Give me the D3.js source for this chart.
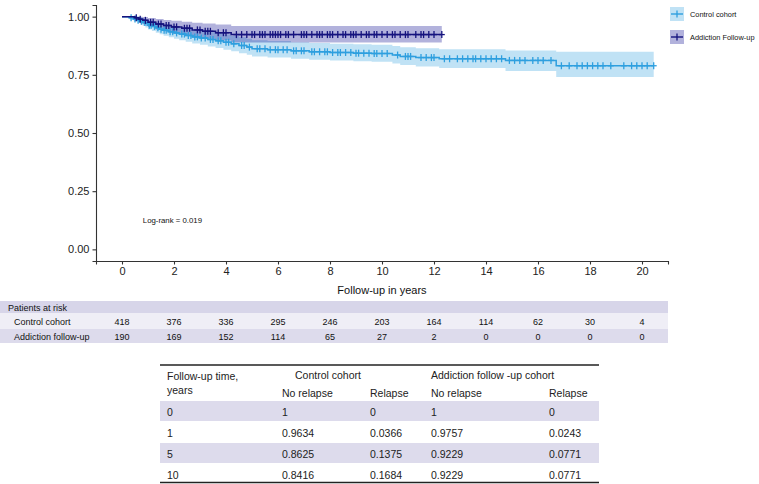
<!DOCTYPE html>
<html><head><meta charset="utf-8">
<script src="https://cdn.jsdelivr.net/npm/d3@7"></script>
<style>body{margin:0;background:#fff;font-family:"Liberation Sans",Arial,sans-serif;}</style>
</head><body><svg id="c" width="759" height="484"></svg>
<script>
// ---- data ----
const ctrlTimes = [0,0.3,0.45,0.6,0.7,0.8,0.9,1.0,1.15,1.3,1.45,1.6,1.8,2.0,2.2,2.45,2.7,3.0,3.3,3.6,3.9,4.2,4.5,4.8,5.0,5.6,6.5,7.2,8.0,8.9,9.6,10.4,10.7,11.3,12.2,14.75,16.7,20.45];
const ctrlSurv  = [1,0.995,0.99,0.985,0.98,0.975,0.97,0.9634,0.958,0.952,0.946,0.941,0.935,0.93,0.925,0.919,0.913,0.908,0.902,0.896,0.89,0.883,0.876,0.869,0.8625,0.858,0.853,0.849,0.846,0.843,0.8416,0.835,0.829,0.824,0.819,0.812,0.789,0.789];
const ctrlLow   = [1,0.988,0.98,0.973,0.966,0.96,0.953,0.945,0.938,0.931,0.924,0.918,0.911,0.905,0.899,0.892,0.885,0.879,0.872,0.865,0.858,0.851,0.843,0.836,0.829,0.824,0.819,0.815,0.811,0.808,0.806,0.799,0.792,0.786,0.779,0.766,0.741,0.741];
const ctrlHigh  = [1,1,0.999,0.997,0.994,0.99,0.987,0.982,0.978,0.974,0.969,0.965,0.96,0.956,0.952,0.947,0.942,0.938,0.933,0.928,0.923,0.917,0.911,0.905,0.899,0.895,0.89,0.887,0.884,0.881,0.879,0.874,0.868,0.864,0.86,0.855,0.849,0.849];
const ctrlCens  = [0.35,0.5,0.62,0.75,0.88,1.05,1.12,1.25,1.38,1.5,1.62,1.7,1.85,1.95,2.1,2.3,2.4,2.55,2.65,2.8,2.9,3.05,3.2,3.4,3.5,3.7,3.8,4.0,4.1,4.3,4.6,4.7,4.9,5.2,5.3,5.5,5.7,5.9,6.0,6.2,6.35,6.6,6.7,6.9,7.0,7.3,7.4,7.6,7.8,7.9,8.1,8.3,8.4,8.6,8.8,9.0,9.1,9.3,9.5,9.7,9.8,10.0,10.2,10.6,10.9,11.0,11.1,11.5,11.7,11.9,12.0,12.4,12.6,12.9,13.1,13.3,13.5,13.6,13.8,14.0,14.2,14.4,14.6,14.9,15.1,15.3,15.5,15.8,16.0,16.2,16.5,16.9,17.2,17.5,17.7,17.9,18.1,18.3,18.5,18.8,19.3,19.6,19.8,20.0,20.2,20.45];

const addTimes = [0,0.5,0.65,0.8,1.0,1.3,1.6,1.9,2.3,2.7,3.1,3.6,4.2,12.3];
const addSurv  = [1,0.995,0.989,0.984,0.9757,0.968,0.962,0.956,0.95,0.943,0.937,0.931,0.9229,0.9229];
const addLow   = [1,0.985,0.975,0.967,0.955,0.945,0.937,0.929,0.921,0.913,0.905,0.898,0.889,0.889];
const addHigh  = [1,1,1,0.998,0.994,0.99,0.986,0.982,0.978,0.974,0.97,0.966,0.96,0.96];
const addCens  = [0.55,0.7,0.9,1.1,1.2,1.4,1.5,1.7,1.8,2.0,2.1,2.4,2.5,2.6,2.9,3.0,3.2,3.3,3.4,3.7,3.9,4.0,4.4,4.6,4.8,5.0,5.1,5.3,5.4,5.5,5.7,5.8,5.9,6.0,6.1,6.3,6.4,6.6,6.9,7.0,7.1,7.3,7.5,7.6,7.7,7.9,8.0,8.1,8.3,8.5,8.6,8.8,8.9,9.0,9.2,9.4,9.5,9.7,9.8,10.0,10.2,10.4,10.5,10.7,10.9,11.0,11.3,11.5,11.6,11.8,12.0,12.3];

const xTicks = [0,2,4,6,8,10,12,14,16,18,20];
const yTicks = [0,0.25,0.5,0.75,1];
const seriesNames = ["Control cohort","Addiction Follow-up"];
const riskLabels = ["Control cohort","Addiction follow-up"];
const riskControl = [418,376,336,295,246,203,164,114,62,30,4];
const riskAddiction = [190,169,152,114,65,27,2,0,0,0,0];
const tblYears = ["0","1","5","10"];
const tblCtrlNo = ["1","0.9634","0.8625","0.8416"];
const tblCtrlRel = ["0","0.0366","0.1375","0.1684"];
const tblAddNo = ["1","0.9757","0.9229","0.9229"];
const tblAddRel = ["0","0.0243","0.0771","0.0771"];

// ---- drawing ----
const svg = d3.select("#c");
const FONT = '"Liberation Sans",Arial,sans-serif';
const x = d3.scaleLinear().domain([-1,21]).range([96,668]);
const y = d3.scaleLinear().domain([-0.05,1.05]).range([261,5]);

const ctrlCol = "#2E9FDF", ctrlFill = "#2E9FDF";
const addCol = "#15137e", addFill = "#00008B";

function series(times, surv, low, high){
  return times.map((t,i)=>({t, s:surv[i], lo:low[i], hi:high[i]}));
}
const ctrl = series(ctrlTimes, ctrlSurv, ctrlLow, ctrlHigh);
const add = series(addTimes, addSurv, addLow, addHigh);

function survAt(d, t){ let v=d[0].s; for(const p of d){ if(p.t<=t) v=p.s; } return v; }

const area = d3.area().curve(d3.curveStepAfter).x(d=>x(d.t)).y0(d=>y(d.lo)).y1(d=>y(d.hi));
const line = d3.line().curve(d3.curveStepAfter).x(d=>x(d.t)).y(d=>y(d.s));

svg.append("path").datum(ctrl).attr("d",area).attr("fill",ctrlFill).attr("fill-opacity",0.3);
svg.append("path").datum(add).attr("d",area).attr("fill",addFill).attr("fill-opacity",0.3);

function drawLine(d, cens, col){
  svg.append("path").datum(d).attr("d",line).attr("fill","none").attr("stroke",col).attr("stroke-width",1.5);
  const g = svg.append("g").attr("stroke",col).attr("stroke-width",1.3);
  cens.forEach(t=>{
    const cx = x(t), cy = y(survAt(d,t));
    g.append("line").attr("x1",cx).attr("x2",cx).attr("y1",cy-3.5).attr("y2",cy+3.5);
    g.append("line").attr("x1",cx-3).attr("x2",cx+3).attr("y1",cy).attr("y2",cy);
  });
}
drawLine(ctrl, ctrlCens, ctrlCol);
drawLine(add, addCens, addCol);

// axes
const xAxis = svg.append("g").attr("transform","translate(0,261)")
  .call(d3.axisBottom(x).tickValues(xTicks).tickSize(3.5).tickPadding(3).tickFormat(d3.format("d")));
const yAxis = svg.append("g").attr("transform","translate(96,0)")
  .call(d3.axisLeft(y).tickValues(yTicks).tickSize(3.5).tickPadding(3).tickFormat(d3.format(".2f")));
[xAxis,yAxis].forEach(a=>{
  a.select(".domain").attr("stroke","#333").attr("stroke-width",1.1);
  a.selectAll(".tick line").attr("stroke","#333").attr("stroke-width",1.1);
  a.selectAll("text").attr("fill","#222").style("font-family",FONT).style("font-size","11px");
});
svg.append("text").attr("x",(x(-1)+x(21))/2).attr("y",294).attr("text-anchor","middle")
  .style("font-family",FONT).style("font-size","11px").attr("fill","#111").text("Follow-up in years");

svg.append("text").attr("x",x(0.8)).attr("y",222.5).style("font-family",FONT).style("font-size","7.8px")
  .attr("fill","#111").text("Log-rank = 0.019");

// legend
const legCols = [[ctrlCol,ctrlFill],[addCol,addFill]];
seriesNames.forEach((n,i)=>{
  const gy = 7 + i*23;
  const g = svg.append("g");
  g.append("rect").attr("x",670).attr("y",gy).attr("width",14).attr("height",14)
    .attr("fill",legCols[i][1]).attr("fill-opacity",0.3);
  g.append("line").attr("x1",671).attr("x2",683).attr("y1",gy+7).attr("y2",gy+7).attr("stroke",legCols[i][0]).attr("stroke-width",1.4);
  g.append("line").attr("x1",677).attr("x2",677).attr("y1",gy+3.5).attr("y2",gy+10.5).attr("stroke",legCols[i][0]).attr("stroke-width",1.3);
  g.append("text").attr("x",690).attr("y",gy+9.5).style("font-family",FONT).style("font-size","7.4px").attr("fill","#111").text(n);
});

// risk table
const rt = svg.append("g");
rt.append("rect").attr("x",0).attr("y",301).attr("width",668).attr("height",12).attr("fill","#d7d5e9");
rt.append("rect").attr("x",0).attr("y",313).attr("width",668).attr("height",16).attr("fill","#efeef6");
rt.append("rect").attr("x",0).attr("y",329).attr("width",668).attr("height",14).attr("fill","#dddbec");
rt.append("text").attr("x",8).attr("y",310.5).style("font-family",FONT).style("font-size","9px").attr("fill","#111").text("Patients at risk");
[riskControl, riskAddiction].forEach((vals,r)=>{
  const ty = r===0 ? 325 : 339.5;
  rt.append("text").attr("x",14).attr("y",ty).style("font-family",FONT).style("font-size","9px").attr("fill","#111").text(riskLabels[r]);
  vals.forEach((v,i)=>{
    rt.append("text").attr("x",x(xTicks[i])).attr("y",ty).attr("text-anchor","middle")
      .style("font-family",FONT).style("font-size","9px").attr("fill","#111").text(v);
  });
});

// summary table
const tb = svg.append("g").style("font-family",FONT).style("font-size","10.5px");
const tx0 = 160, tx1 = 599;
const colX = [167, 282, 370, 431, 549];
const rowY = [412, 433, 454, 475];
[0,2].forEach(r=> tb.append("rect").attr("x",tx0).attr("y",rowY[r]-11).attr("width",tx1-tx0).attr("height",20).attr("fill","#dddbec"));
tb.append("line").attr("x1",tx0).attr("x2",tx1).attr("y1",365).attr("y2",365).attr("stroke","#222").attr("stroke-width",1.3);
tb.append("line").attr("x1",tx0).attr("x2",tx1).attr("y1",482.5).attr("y2",482.5).attr("stroke","#222").attr("stroke-width",1.3);
tb.append("text").attr("x",colX[0]).attr("y",380).attr("fill","#222").text("Follow-up time,");
tb.append("text").attr("x",colX[0]).attr("y",394).attr("fill","#222").text("years");
tb.append("text").attr("x",328).attr("y",379).attr("text-anchor","middle").attr("fill","#222").text("Control cohort");
tb.append("text").attr("x",colX[3]).attr("y",379).attr("fill","#222").text("Addiction follow -up cohort");
["No relapse","Relapse","No relapse","Relapse"].forEach((h,i)=> tb.append("text").attr("x",colX[i+1]).attr("y",397).attr("fill","#222").text(h));
tblYears.forEach((yr,r)=>{
  [yr, tblCtrlNo[r], tblCtrlRel[r], tblAddNo[r], tblAddRel[r]].forEach((v,c)=>{
    tb.append("text").attr("x",colX[c]).attr("y",rowY[r]+4).attr("fill","#222").text(v);
  });
});
</script></body></html>
